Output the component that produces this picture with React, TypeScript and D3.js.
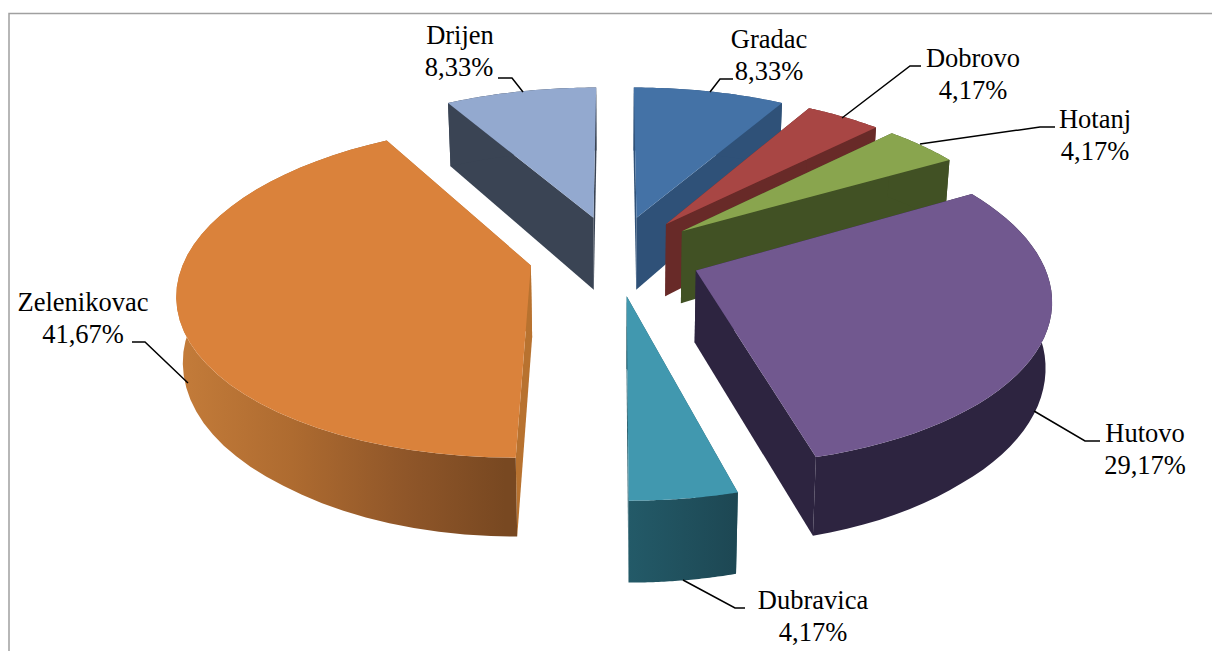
import React from "react";
import * as d3 from "d3";

const categories = ["Gradac", "Dobrovo", "Hotanj", "Hutovo", "Dubravica", "Zelenikovac", "Drijen"];
const shares = [8.33, 4.17, 4.17, 29.17, 4.17, 41.67, 8.33];
const valueLabels = ["8,33%", "4,17%", "4,17%", "29,17%", "4,17%", "41,67%", "8,33%"];
const topColors = ["#4472a6", "#a84644", "#89a54e", "#71588f", "#4198af", "#da823b", "#93a9cf"];
const wallColors = ["#2f5178", "#682a28", "#415124", "#2d2440", "#245a68", "#a8672e", "#3a4454"];
const sideColors = ["#2f5178", "#682a28", "#415124", "#2d2440", "#245a68", "#b8722f", "#3a4454"];
const paintOrder = [6, 0, 1, 2, 5, 3, 4];

const labelX = [769, 973, 1095, 1145, 813, 83, 460];
const labelY = [48, 67, 128, 442, 609, 311, 44];
const leaders = [
  [[733, 79], [720, 79], [710, 92]],
  [[921, 66], [910, 66], [842, 118]],
  [[1055, 127], [1040, 127], [920, 144]],
  [[1100, 441], [1085, 441], [1034, 411]],
  [[745, 608], [735, 608], [683, 580]],
  [[132, 342], [145, 342], [188, 383]],
  [[498, 78], [512, 78], [523, 92]],
];

const CX = 615, CY = 255, RX = 345, RY = 160, K = 0.15, EXPLODE = 0.25, APEX_DEPTH = 72, LEAN = 0.985;
const rimDepth = d3.scaleLinear().domain([-1.25, 0.2, 0.85, 1.07, 1.25]).range([63, 65, 73, 79, 82]);

type P = [number, number];
const persp = (v: number) => 1 / (1 - K * v);
const top = (u: number, v: number): P => [CX + RX * u * persp(v), CY + RY * v * persp(v)];
const bottom = (u: number, v: number, depth: number): P => {
  const [x, y] = top(u, v);
  return [CX + (x - CX) * LEAN, y + depth];
};

const pieGen = d3.pie<number>().sort(null).startAngle(0).endAngle(2 * Math.PI);
const line = d3.line<P>().x((d) => d[0]).y((d) => d[1]);
const closed = (pts: P[]) => (line(pts) ?? "") + "Z";

export default function App() {
  const arcs = pieGen(shares);
  const slices = arcs.map((a, i) => {
    const mid = (a.startAngle + a.endAngle) / 2;
    const cu = EXPLODE * Math.sin(mid);
    const cv = -EXPLODE * Math.cos(mid);
    const angles = d3.range(0, 41).map((t) => a.startAngle + ((a.endAngle - a.startAngle) * t) / 40);
    const rim = angles.map((th) => [cu + Math.sin(th), cv - Math.cos(th)] as P);
    const rimTop = rim.map((p) => top(p[0], p[1]));
    const rimBot = rim.map((p) => bottom(p[0], p[1], rimDepth(p[1])));
    const aTop = top(cu, cv);
    const aBot = bottom(cu, cv, APEX_DEPTH);
    return {
      i,
      topFace: closed([aTop, ...rimTop]),
      outer: closed([...rimTop, ...[...rimBot].reverse()]),
      startWall: closed([aTop, rimTop[0], rimBot[0], aBot]),
      endWall: closed([aTop, rimTop[40], rimBot[40], aBot]),
      rimX: d3.extent(rimTop, (d) => d[0]) as [number, number],
    };
  });
  const zel = slices[5];
  return (
    <svg
      width={1212}
      height={651}
      viewBox="0 0 1212 651"
      style={{ position: "absolute", left: 0, top: 0, background: "#fff" }}
    >
      <defs>
        <linearGradient id="zelWall" gradientUnits="userSpaceOnUse" x1={zel.rimX[0]} x2={zel.rimX[1] * 0.98} y1={0} y2={0}>
          <stop offset="0" stopColor="#c47c3a" />
          <stop offset="0.35" stopColor="#ae6b30" />
          <stop offset="0.7" stopColor="#8f5629" />
          <stop offset="1" stopColor="#784821" />
        </linearGradient>
        <linearGradient id="dubWall" x1="0" x2="1" y1="0" y2="0">
          <stop offset="0" stopColor="#235a68" />
          <stop offset="1" stopColor="#1d4753" />
        </linearGradient>
      </defs>
      <path d="M9,651V13.5H1212" fill="none" stroke="#a0a0a0" strokeWidth={1.5} />
      {paintOrder.map((i) => {
        const s = slices[i];
        const outerFill = i === 5 ? "url(#zelWall)" : i === 4 ? "url(#dubWall)" : wallColors[i];
        return (
          <g key={categories[i]}>
            <path d={s.startWall} fill={sideColors[i]} />
            <path d={s.endWall} fill={sideColors[i]} />
            <path d={s.outer} fill={outerFill} />
            <path d={s.topFace} fill={topColors[i]} />
          </g>
        );
      })}
      {leaders.map((pts, i) => (
        <path key={i} d={line(pts as P[]) ?? ""} fill="none" stroke="#000" strokeWidth={1.5} />
      ))}
      <g fontFamily="'Liberation Serif', serif" fontSize={26.5} fill="#000" textAnchor="middle">
        {categories.map((c, i) => (
          <text key={c} x={labelX[i]} y={labelY[i]}>
            <tspan x={labelX[i]}>{c}</tspan>
            <tspan x={labelX[i] - (i === 6 ? 1 : 0)} dy={31.5}>{valueLabels[i]}</tspan>
          </text>
        ))}
      </g>
    </svg>
  );
}
